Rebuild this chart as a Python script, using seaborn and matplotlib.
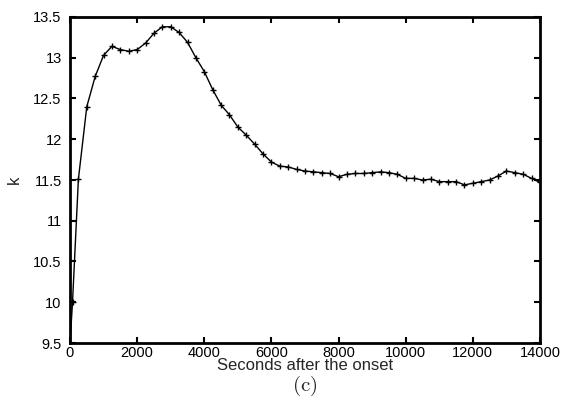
import matplotlib
matplotlib.use("Agg")
import matplotlib.pyplot as plt
import seaborn as sns
import pandas as pd

seconds = [0, 75, 250, 500, 750, 1000, 1250, 1500, 1750, 2000, 2250, 2500, 2750, 3000,
           3250, 3500, 3750, 4000, 4250, 4500, 4750, 5000, 5250, 5500, 5750, 6000,
           6250, 6500, 6750, 7000, 7250, 7500, 7750, 8000, 8250, 8500, 8750, 9000,
           9250, 9500, 9750, 10000, 10250, 10500, 10750, 11000, 11250, 11500, 11750,
           12000, 12250, 12500, 12750, 13000, 13250, 13500, 13750, 14000]
k_values = [9.5, 10.0, 11.51, 12.40, 12.77, 13.03, 13.14, 13.10, 13.08, 13.10, 13.18,
            13.30, 13.38, 13.38, 13.31, 13.19, 13.00, 12.83, 12.61, 12.42, 12.30,
            12.15, 12.05, 11.94, 11.82, 11.72, 11.67, 11.66, 11.63, 11.61, 11.60,
            11.59, 11.58, 11.54, 11.57, 11.58, 11.58, 11.59, 11.60, 11.59, 11.57,
            11.52, 11.52, 11.50, 11.51, 11.48, 11.48, 11.48, 11.44, 11.46, 11.48,
            11.50, 11.55, 11.61, 11.59, 11.57, 11.52, 11.47]
x_ticks = [0, 2000, 4000, 6000, 8000, 10000, 12000, 14000]
y_ticks = [9.5, 10, 10.5, 11, 11.5, 12, 12.5, 13, 13.5]
y_ticklabels = ["9.5", "10", "10.5", "11", "11.5", "12", "12.5", "13", "13.5"]

sns.set_theme(style="ticks")
plt.rcParams["font.family"] = ["Liberation Sans", "DejaVu Sans"]
plt.rcParams["mathtext.fontset"] = "cm"

df = pd.DataFrame({"t": seconds, "k": k_values})

fig = plt.figure(figsize=(5.64, 4.11), dpi=100)
ax = fig.add_axes([70 / 564, 1 - 343 / 411, 470 / 564, 326 / 411])
sns.lineplot(data=df, x="t", y="k", ax=ax, color="black", linewidth=1.0,
             marker="+", markersize=5, markeredgewidth=1.0, markeredgecolor="black")

ax.set_xlim(0, 14000)
ax.set_ylim(9.5, 13.5)
ax.set_xticks(x_ticks)
ax.set_xticklabels([str(v) for v in x_ticks])
ax.set_yticks(y_ticks)
ax.set_yticklabels(y_ticklabels)
ax.tick_params(direction="in", length=4, width=1.5, top=True, right=True,
               labelsize=10.5, colors="black")
ax.tick_params(axis="y", pad=6)
ax.tick_params(axis="x", pad=2)
for s in ax.spines.values():
    s.set_visible(True)
    s.set_linewidth(2)
    s.set_color("black")
ax.set_xlabel("Seconds after the onset", fontsize=12, labelpad=-1)
ax.set_ylabel("k", fontsize=12, labelpad=8)
fig.text(305 / 564, 1 - 386 / 411, r"$(\mathrm{c})$", fontsize=15, ha="center", va="center")

fig.savefig("out.png", dpi=100, facecolor="white")
